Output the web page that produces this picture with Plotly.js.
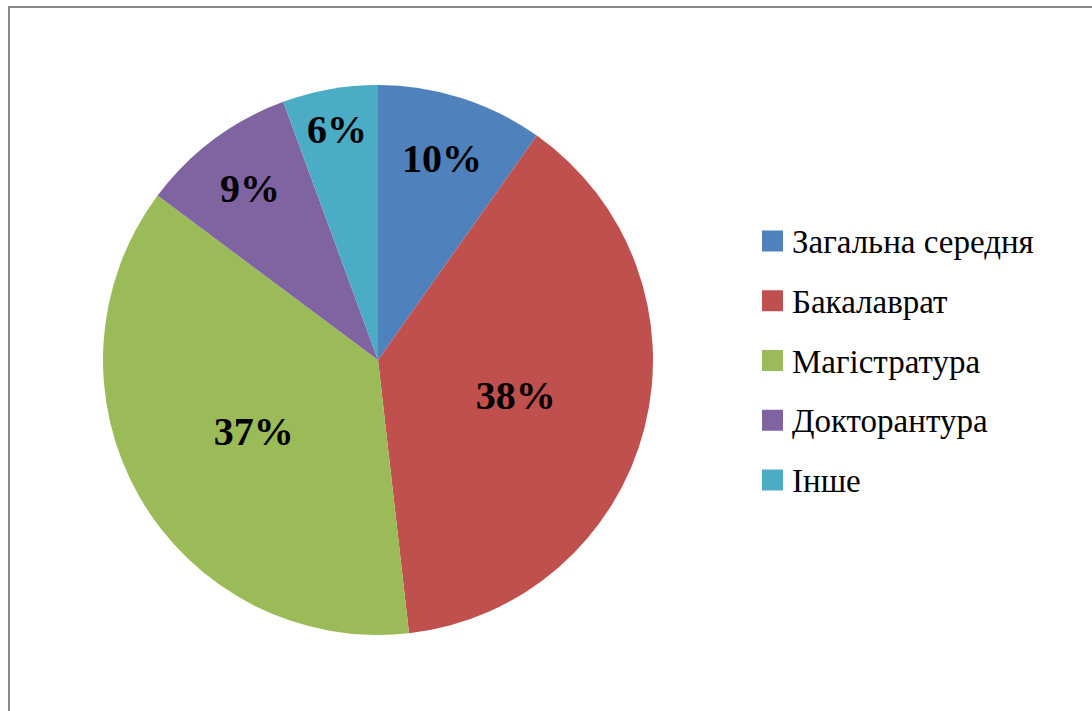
<!DOCTYPE html>
<html>
<head>
<meta charset="utf-8">
<script src="https://cdn.plot.ly/plotly-3.0.1.min.js"></script>
<style>html,body{margin:0;padding:0;background:#fff;}#chart{width:1092px;height:711px;}</style>
</head>
<body>
<div id="chart"></div>
<script>
const labels = ['Загальна середня', 'Бакалаврат', 'Магістратура', 'Докторантура', 'Інше'];
const values = [9.8, 38.4, 37.0, 9.2, 5.6];
const colors = ['#4F81BD', '#C0504D', '#9BBB59', '#8064A2', '#4BACC6'];

const W = 1092, H = 711;
const cx = 378, cy = 360, r = 275;
const serif = 'Liberation Serif';

// legend geometry (pixels)
const legX = 762, legSw = 21, legTextX = 790, legY0 = 241, legStep = 59.75;

const pie = {
  type: 'pie',
  labels: labels,
  values: values,
  sort: false,
  direction: 'clockwise',
  rotation: 0,
  marker: {colors: colors, line: {width: 0}},
  texttemplate: '%{percent:.0%}',
  textposition: 'inside',
  insidetextorientation: 'horizontal',
  textfont: {family: serif, size: 40, color: '#000', weight: 'bold'},
  hoverinfo: 'label+percent',
  showlegend: false,
  domain: {x: [(cx - r) / W, (cx + r) / W], y: [(H - cy - r) / H, (H - cy + r) / H]}
};

const shapes = [{
  type: 'rect', xref: 'paper', yref: 'paper',
  x0: 9 / W, x1: 1.02, y0: -0.02, y1: 1 - 7 / H,
  line: {color: '#888', width: 2}
}];
const annotations = [];
labels.forEach((lab, i) => {
  const yc = legY0 + i * legStep;
  shapes.push({
    type: 'rect', xref: 'paper', yref: 'paper',
    x0: legX / W, x1: (legX + legSw) / W,
    y0: 1 - (yc + legSw / 2) / H, y1: 1 - (yc - legSw / 2) / H,
    fillcolor: colors[i], line: {width: 0}
  });
  annotations.push({
    xref: 'paper', yref: 'paper', x: legTextX / W, y: 1 - (yc + 1) / H,
    xanchor: 'left', yanchor: 'middle', showarrow: false,
    text: lab, font: {family: serif, size: 33, color: '#000'}
  });
});

const layout = {
  width: W, height: H,
  margin: {l: 0, r: 0, t: 0, b: 0},
  font: {family: serif, size: 30, color: '#000'},
  paper_bgcolor: '#fff',
  showlegend: false,
  shapes: shapes,
  annotations: annotations
};

Plotly.newPlot('chart', [pie], layout, {displayModeBar: false, staticPlot: true});
</script>
</body>
</html>
